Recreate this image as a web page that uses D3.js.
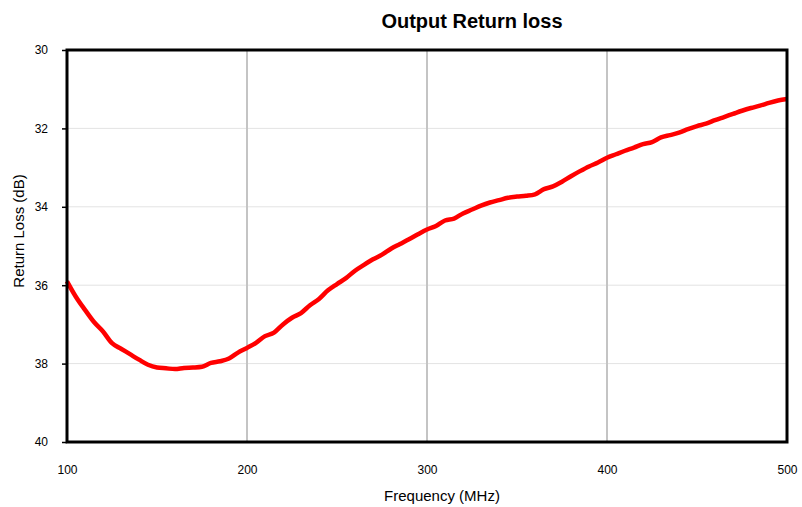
<!DOCTYPE html>
<html><head><meta charset="utf-8">
<script src="https://cdn.jsdelivr.net/npm/d3@7"></script>
<style>body{margin:0;background:#fff}svg{display:block}text{font-family:"Liberation Sans",Arial,sans-serif}</style>
</head><body>
<svg id="c" width="802" height="507"></svg>
<script>
const freq = [100,105,110,115,120,125,130,135,140,145,150,155,160,165,170,175,180,185,190,195,200,205,210,215,220,225,230,235,240,245,250,255,260,265,270,275,280,285,290,295,300,305,310,315,320,325,330,335,340,345,350,355,360,365,370,375,380,385,390,395,400,405,410,415,420,425,430,435,440,445,450,455,460,465,470,475,480,485,490,495,500];
const returnLoss = [35.9,36.3,36.63,36.94,37.18,37.48,37.62,37.76,37.9,38.03,38.1,38.12,38.14,38.11,38.1,38.08,37.98,37.94,37.87,37.72,37.6,37.47,37.3,37.21,37.0,36.83,36.71,36.51,36.35,36.13,35.97,35.82,35.63,35.48,35.34,35.22,35.07,34.95,34.83,34.7,34.58,34.49,34.35,34.3,34.17,34.07,33.97,33.89,33.83,33.77,33.74,33.72,33.68,33.55,33.48,33.36,33.22,33.09,32.97,32.87,32.75,32.66,32.57,32.49,32.4,32.35,32.23,32.17,32.11,32.02,31.94,31.88,31.79,31.71,31.63,31.55,31.48,31.42,31.35,31.29,31.25];
const xTicks = [100,200,300,400,500];
const yTicks = [30,32,34,36,38,40];

const svg = d3.select("#c");
const L=67,R=787,T=50,B=442;
const x = d3.scaleLinear().domain([100,500]).range([L,R]);
const y = d3.scaleLinear().domain([30,40]).range([T,B]);

// horizontal grid
svg.append("g").selectAll("line").data(yTicks.filter(v=>v>30&&v<40)).join("line")
  .attr("x1",L).attr("x2",R).attr("y1",d=>y(d)).attr("y2",d=>y(d))
  .attr("stroke","#e3e3e3").attr("stroke-width",1);
// vertical grid
svg.append("g").selectAll("line").data(xTicks.filter(v=>v>100&&v<500)).join("line")
  .attr("y1",T).attr("y2",B).attr("x1",d=>x(d)).attr("x2",d=>x(d))
  .attr("stroke","#c4c4c4").attr("stroke-width",2);

// line
svg.append("path").datum(freq.map((f,i)=>[f,returnLoss[i]]))
  .attr("fill","none").attr("stroke","#ff0000").attr("stroke-width",4.5)
  .attr("stroke-linejoin","round").attr("stroke-linecap","butt")
  .attr("d",d3.line().x(d=>x(d[0])).y(d=>y(d[1])).curve(d3.curveMonotoneX));

// frame
svg.append("rect").attr("x",L).attr("y",T).attr("width",R-L).attr("height",B-T)
  .attr("fill","none").attr("stroke","#000").attr("stroke-width",3);

// y axis
const ya = svg.append("g").attr("transform",`translate(${L},0)`)
  .call(d3.axisLeft(y).tickValues(yTicks).tickSize(5).tickPadding(14).tickFormat(d3.format("d")));
ya.select(".domain").remove();
ya.selectAll("line").attr("stroke","#000").attr("stroke-width",1.5);
ya.selectAll("text").attr("font-size",12).attr("fill","#000").style("font-family","'Liberation Sans',Arial,sans-serif");

// x axis
const xa = svg.append("g").attr("transform",`translate(0,${B})`)
  .call(d3.axisBottom(x).tickValues(xTicks).tickSize(0).tickPadding(23.5).tickFormat(d3.format("d")));
xa.select(".domain").remove();
xa.selectAll("text").attr("font-size",12).attr("fill","#000").style("font-family","'Liberation Sans',Arial,sans-serif");

// title & labels
svg.append("text").attr("x",472).attr("y",28).attr("text-anchor","middle")
  .attr("font-size",20).attr("font-weight","bold").text("Output Return loss");
svg.append("text").attr("x",442).attr("y",501).attr("text-anchor","middle")
  .attr("font-size",15).text("Frequency (MHz)");
svg.append("text").attr("transform","translate(24,231) rotate(-90)").attr("text-anchor","middle")
  .attr("font-size",15).text("Return Loss (dB)");
</script>
</body></html>
